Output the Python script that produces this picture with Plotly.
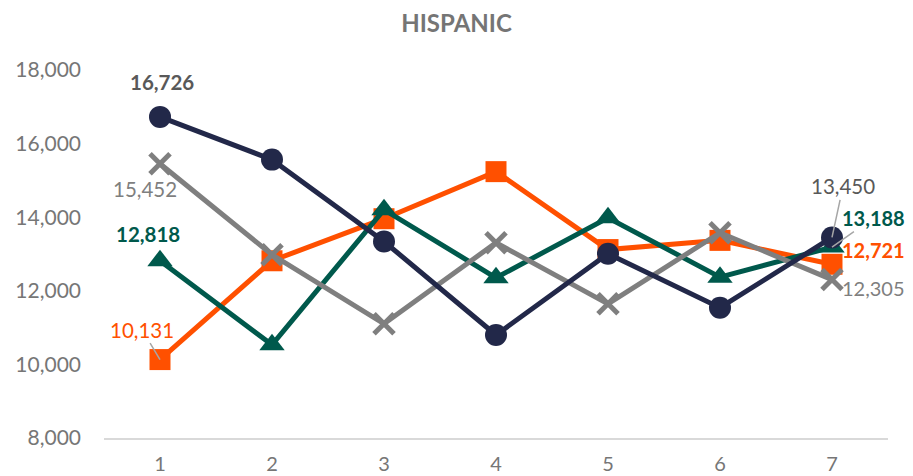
import plotly.graph_objects as go

categories = [1, 2, 3, 4, 5, 6, 7]
navy_vals = [16726, 15565, 13340, 10800, 13007, 11540, 13450]
orange_vals = [10131, 12816, 13959, 15238, 13120, 13370, 12721]
green_vals = [12818, 10531, 14204, 12354, 13986, 12370, 13188]
gray_vals = [15452, 12980, 11102, 13306, 11646, 13578, 12305]
y_ticks = [8000, 10000, 12000, 14000, 16000, 18000]
y_tick_labels = ["8,000", "10,000", "12,000", "14,000", "16,000", "18,000"]

NAVY = "#222849"
ORANGE = "#FF5000"
GREEN = "#00594C"
GRAY = "#7F7F7F"
FONT = "Lato"

fig = go.Figure()
fig.add_trace(go.Scatter(x=categories, y=orange_vals, mode="lines+markers",
                         line=dict(color=ORANGE, width=5),
                         marker=dict(symbol="square", size=21, color=ORANGE)))
fig.add_trace(go.Scatter(x=categories, y=green_vals, mode="lines+markers",
                         line=dict(color=GREEN, width=5),
                         marker=dict(symbol="triangle-up", size=22, color=GREEN)))
fig.add_trace(go.Scatter(x=categories, y=gray_vals, mode="lines+markers",
                         line=dict(color=GRAY, width=5),
                         marker=dict(symbol="x-thin", size=20, color=GRAY,
                                     line=dict(color=GRAY, width=5))))
fig.add_trace(go.Scatter(x=categories, y=navy_vals, mode="lines+markers",
                         line=dict(color=NAVY, width=5),
                         marker=dict(symbol="circle", size=22, color=NAVY)))

def lab(x, y, text, color, ax, ay, bold=False, arrow=False, size=20.5):
    fig.add_annotation(x=x, y=y, xref="x", yref="y",
                       text=f"<b>{text}</b>" if bold else text,
                       font=dict(family=FONT, size=size, color=color),
                       showarrow=True, arrowhead=0, arrowwidth=1.5,
                       arrowcolor="#A6A6A6" if arrow else "rgba(0,0,0,0)",
                       ax=ax, ay=ay, standoff=0)

def fmt(v):
    return f"{v:,}"

lab(categories[0], navy_vals[0], fmt(navy_vals[0]), "#595959", 2, -35, bold=True)
lab(categories[0], gray_vals[0], fmt(gray_vals[0]), GRAY, -15, 25)
lab(categories[0], green_vals[0], fmt(green_vals[0]), GREEN, -12, -27, bold=True)
lab(categories[0], orange_vals[0], fmt(orange_vals[0]), ORANGE, -18, -30, arrow=True)
lab(categories[6], navy_vals[6], fmt(navy_vals[6]), "#595959", 11, -51, arrow=True)
lab(categories[6], green_vals[6], fmt(green_vals[6]), GREEN, 41, -29, bold=True, arrow=True, size=20)
lab(categories[6], orange_vals[6], fmt(orange_vals[6]), ORANGE, 41, -14, bold=True, size=20)
lab(categories[6], gray_vals[6], fmt(gray_vals[6]), GRAY, 41, 8, size=20)

fig.update_layout(
    width=905, height=468,
    margin=dict(l=96, r=25, t=62, b=38),
    paper_bgcolor="white", plot_bgcolor="white",
    showlegend=False,
    title=dict(text="<b>HISPANIC</b>", x=0.4956, xanchor="center", y=0.9669, yanchor="middle",
               font=dict(family=FONT, size=24, color="#757575")),
    font=dict(family=FONT, color="#767676"),
)
fig.update_xaxes(range=[0.5, 7.5], tickmode="array", tickvals=categories,
                 ticktext=[str(c) for c in categories], automargin=False,
                 showgrid=False, zeroline=False, showline=True, linecolor="#D9D9D9",
                 linewidth=2, ticks="", ticklabelstandoff=7,
                 tickfont=dict(family=FONT, size=20, color="#767676"))
fig.update_yaxes(range=[8000, 18000], tickmode="array", tickvals=y_ticks,
                 ticktext=y_tick_labels, showgrid=False, zeroline=False, automargin=False,
                 showline=False, ticks="", ticklabelstandoff=22,
                 tickfont=dict(family=FONT, size=21, color="#767676"))

fig.write_html("out.html")
